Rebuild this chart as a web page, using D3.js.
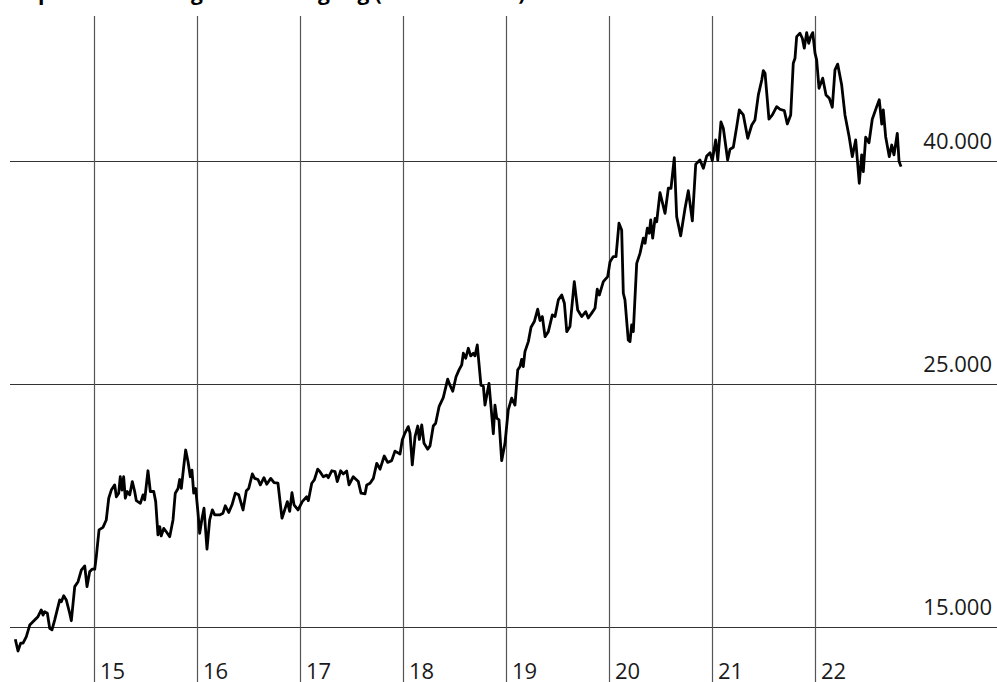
<!DOCTYPE html>
<html>
<head>
<meta charset="utf-8">
<script src="https://cdn.jsdelivr.net/npm/d3@7"></script>
<style>
  body { margin: 0; background: #fff; }
  svg { display: block; font-family: "Open Sans", "Noto Sans", sans-serif; }
</style>
</head>
<body>
<div id="chart"></div>
<script>
var title = "Depotentwicklung: Kursbewegung (Schlusskurse)";

// x ticks (years) and y ticks (log scale)
var yearTicks = [2015, 2016, 2017, 2018, 2019, 2020, 2021, 2022];
var yearLabels = ["15", "16", "17", "18", "19", "20", "21", "22"];
var valueTicks = [15000, 25000, 40000];
var valueLabels = ["15.000", "25.000", "40.000"];

// series (decimal year, index points)
var years = [
  2014.236, 2014.262, 2014.288, 2014.311, 2014.343, 2014.376, 2014.424, 2014.456, 2014.488, 2014.505,
  2014.521, 2014.547, 2014.570, 2014.592, 2014.618, 2014.650, 2014.667, 2014.683, 2014.706, 2014.731,
  2014.764, 2014.780, 2014.813, 2014.845, 2014.877, 2014.910, 2014.932, 2014.958, 2014.981, 2015.007,
  2015.022, 2015.049, 2015.087, 2015.119, 2015.143, 2015.168, 2015.201, 2015.217, 2015.240, 2015.255,
  2015.272, 2015.288, 2015.304, 2015.323, 2015.347, 2015.372, 2015.395, 2015.411, 2015.450, 2015.476,
  2015.492, 2015.524, 2015.547, 2015.580, 2015.599, 2015.621, 2015.638, 2015.653, 2015.677, 2015.702,
  2015.735, 2015.767, 2015.789, 2015.816, 2015.832, 2015.848, 2015.871, 2015.890, 2015.913, 2015.935,
  2015.951, 2015.968, 2015.987, 2016.010, 2016.026, 2016.049, 2016.068, 2016.097, 2016.123, 2016.149,
  2016.172, 2016.220, 2016.252, 2016.275, 2016.308, 2016.340, 2016.372, 2016.405, 2016.447, 2016.479,
  2016.502, 2016.537, 2016.560, 2016.592, 2016.615, 2016.650, 2016.677, 2016.716, 2016.748, 2016.786,
  2016.825, 2016.851, 2016.877, 2016.900, 2016.922, 2016.942, 2016.981, 2017.022, 2017.065, 2017.081,
  2017.114, 2017.139, 2017.172, 2017.194, 2017.226, 2017.259, 2017.275, 2017.308, 2017.340, 2017.362,
  2017.395, 2017.420, 2017.453, 2017.476, 2017.517, 2017.566, 2017.592, 2017.631, 2017.648, 2017.680,
  2017.712, 2017.745, 2017.777, 2017.818, 2017.851, 2017.890, 2017.922, 2017.971, 2017.993, 2018.019,
  2018.051, 2018.068, 2018.090, 2018.117, 2018.143, 2018.159, 2018.182, 2018.204, 2018.240, 2018.262,
  2018.294, 2018.317, 2018.350, 2018.391, 2018.434, 2018.456, 2018.483, 2018.515, 2018.544, 2018.570,
  2018.586, 2018.609, 2018.634, 2018.657, 2018.683, 2018.699, 2018.721, 2018.757, 2018.780, 2018.796,
  2018.835, 2018.877, 2018.893, 2018.910, 2018.932, 2018.958, 2018.990, 2019.022, 2019.055, 2019.087,
  2019.114, 2019.136, 2019.152, 2019.168, 2019.184, 2019.217, 2019.243, 2019.275, 2019.308, 2019.330,
  2019.353, 2019.379, 2019.411, 2019.450, 2019.476, 2019.508, 2019.541, 2019.567, 2019.590, 2019.621,
  2019.663, 2019.696, 2019.735, 2019.774, 2019.799, 2019.832, 2019.864, 2019.886, 2019.906, 2019.945,
  2019.987, 2020.010, 2020.042, 2020.068, 2020.097, 2020.123, 2020.139, 2020.155, 2020.187, 2020.204,
  2020.220, 2020.236, 2020.269, 2020.301, 2020.333, 2020.350, 2020.372, 2020.391, 2020.405, 2020.424,
  2020.447, 2020.463, 2020.495, 2020.544, 2020.576, 2020.602, 2020.634, 2020.657, 2020.696, 2020.738,
  2020.770, 2020.809, 2020.842, 2020.883, 2020.916, 2020.949, 2020.981, 2021.003, 2021.036, 2021.056,
  2021.087, 2021.110, 2021.152, 2021.175, 2021.207, 2021.240, 2021.265, 2021.304, 2021.347, 2021.386,
  2021.417, 2021.450, 2021.483, 2021.498, 2021.515, 2021.553, 2021.586, 2021.628, 2021.660, 2021.702,
  2021.731, 2021.764, 2021.789, 2021.806, 2021.822, 2021.854, 2021.877, 2021.896, 2021.919, 2021.939,
  2021.958, 2021.978, 2022.000, 2022.016, 2022.039, 2022.075, 2022.107, 2022.139, 2022.168, 2022.194,
  2022.220, 2022.259, 2022.291, 2022.330, 2022.362, 2022.395, 2022.430, 2022.453, 2022.469, 2022.492,
  2022.524, 2022.556, 2022.599, 2022.624, 2022.648, 2022.663, 2022.686, 2022.721, 2022.745, 2022.767,
  2022.799, 2022.816, 2022.835
];

var values = [
  14620, 14260, 14500, 14500, 14700, 15060, 15220, 15330, 15550, 15380,
  15490, 15440, 14960, 14910, 15220, 15650, 15880, 15820, 16020, 15880,
  15440, 15200, 16330, 16500, 16910, 17060, 16330, 16850, 16940, 16940,
  17390, 18400, 18500, 18790, 19670, 20010, 20230, 19730, 19880, 20580,
  20010, 20580, 19670, 19950, 19810, 20370, 19950, 19570, 19460, 19810,
  19600, 20840, 19950, 19950, 19530, 18210, 18530, 18170, 18460, 18330,
  18140, 18790, 19880, 20080, 20460, 20080, 21020, 21770, 21240, 20580,
  20870, 19880, 20080, 19060, 18270, 18860, 19260, 17670, 18790, 19190,
  18990, 18990, 19060, 19360, 19090, 19400, 19880, 19810, 19190, 19980,
  20080, 20700, 20510, 20460, 20230, 20540, 20260, 20510, 20330, 20300,
  18860, 19190, 19530, 19130, 19900, 19400, 19190, 19530, 19730, 19570,
  20300, 20440, 20910, 20800, 20580, 20650, 20540, 20840, 20800, 20370,
  20840, 20700, 20830, 20230, 20580, 20370, 19880, 19850, 20230, 20300,
  20510, 21170, 20910, 21500, 21210, 21290, 21720, 21590, 22230, 22560,
  22870, 22560, 21100, 22390, 22900, 22260, 22950, 22080, 21810, 21960,
  22900, 23030, 23850, 24310, 25270, 24950, 24640, 25400, 25770, 26040,
  26690, 26410, 26970, 26540, 26690, 26540, 27160, 24950, 24900, 23930,
  25050, 22530, 23930, 23280, 23200, 21290, 22080, 23690, 24280, 23930,
  25770, 25950, 26350, 25950, 26780, 27350, 28190, 28530, 29280, 28590,
  28830, 27640, 27930, 28930, 28830, 29860, 30170, 29650, 27930, 28230,
  31030, 29230, 28830, 29130, 28740, 29040, 29340, 30540, 30170, 31030,
  31360, 32360, 32710, 32710, 35090, 34600, 30280, 29860, 27440, 27350,
  28330, 27930, 32250, 32930, 34000, 33640, 34720, 34360, 35330, 34000,
  35450, 35200, 37420, 35820, 37770, 37770, 40280, 35580, 34170, 36190,
  37580, 35260, 39730, 40080, 39390, 40430, 40710, 40030, 41810, 40080,
  43430, 42860, 40080, 41000, 41170, 43000, 44540, 44070, 41960, 43150,
  43610, 45970, 47440, 48380, 48120, 43680, 44070, 44850, 44600, 44470,
  43240, 44070, 49140, 49660, 51970, 52340, 51790, 50720, 52410, 51250,
  51970, 52410, 50190, 49490, 46620, 47620, 45970, 45650, 44790, 48450,
  49050, 46930, 44070, 42170, 40370, 41810, 38170, 40520, 39120, 42050,
  41570, 43680, 44850, 45500, 43240, 44540, 42100, 40370, 41370, 40520,
  42400, 39970, 39530
];

var width = 997, height = 682;

var data = years.map(function(d, i) { return { year: d, value: values[i] }; });

var x = d3.scaleLinear()
    .domain([2015, 2022])
    .range([94, 815]);

var y = d3.scaleLog()
    .domain([15000, 40000])
    .range([627, 161]);

var svg = d3.select("#chart").append("svg")
    .attr("width", width)
    .attr("height", height);

// title, mostly cut off at the top edge
svg.append("text")
    .attr("x", 10)
    .attr("y", 0)
    .attr("font-size", 21)
    .attr("font-weight", "bold")
    .attr("fill", "#000")
    .text(title);

// horizontal grid + labels
svg.selectAll(".hline")
    .data(valueTicks)
    .enter().append("line")
    .attr("class", "hline")
    .attr("x1", 10)
    .attr("x2", width)
    .attr("y1", function(d) { return Math.round(y(d)) + 0.5; })
    .attr("y2", function(d) { return Math.round(y(d)) + 0.5; })
    .attr("stroke", "#333")
    .attr("stroke-width", 1.2);

svg.selectAll(".vlabel")
    .data(valueTicks)
    .enter().append("text")
    .attr("class", "vlabel")
    .attr("x", 992)
    .attr("y", function(d) { return y(d) - 12; })
    .attr("text-anchor", "end")
    .attr("font-size", 22)
    .attr("fill", "#1a1a1a")
    .text(function(d, i) { return valueLabels[i]; });

// vertical year lines + labels
svg.selectAll(".vline")
    .data(yearTicks)
    .enter().append("line")
    .attr("class", "vline")
    .attr("x1", function(d) { return Math.round(x(d)) + 0.5; })
    .attr("x2", function(d) { return Math.round(x(d)) + 0.5; })
    .attr("y1", 16)
    .attr("y2", height)
    .attr("stroke", "#555")
    .attr("stroke-width", 1.2);

svg.selectAll(".ylabel")
    .data(yearTicks)
    .enter().append("text")
    .attr("class", "ylabel")
    .attr("x", function(d) { return x(d) + 6; })
    .attr("y", 679)
    .attr("font-size", 22)
    .attr("fill", "#1a1a1a")
    .text(function(d, i) { return yearLabels[i]; });

var line = d3.line()
    .x(function(d) { return x(d.year); })
    .y(function(d) { return y(d.value); });

svg.append("path")
    .datum(data)
    .attr("fill", "none")
    .attr("stroke", "#000")
    .attr("stroke-width", 2.8)
    .attr("stroke-linejoin", "round")
    .attr("d", line);
</script>
</body>
</html>
